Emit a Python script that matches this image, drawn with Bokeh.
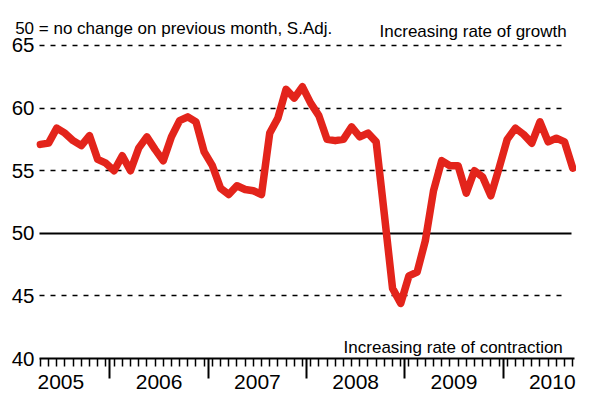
import pandas as pd
from bokeh.plotting import figure
from bokeh.models import ColumnDataSource, LinearAxis, FixedTicker, Grid, Label, Range1d
from bokeh.embed import file_html
from bokeh.resources import INLINE

# ---- data ----
months = [p.strftime("%Y-%m") for p in pd.period_range("2005-04", "2010-09", freq="M")]
pmi = [57.1, 57.2, 58.4, 58.0, 57.4, 57.0, 57.8, 55.9, 55.6, 55.0, 56.2, 55.0,
       56.8, 57.7, 56.7, 55.8, 57.7, 59.0, 59.3, 58.9, 56.5, 55.4, 53.6, 53.1,
       53.8, 53.5, 53.4, 53.1, 58.0, 59.2, 61.5, 60.8, 61.7, 60.4, 59.4, 57.5,
       57.4, 57.5, 58.5, 57.7, 58.0, 57.3, 51.5, 45.6, 44.4, 46.6, 46.9, 49.4,
       53.4, 55.8, 55.4, 55.4, 53.2, 55.0, 54.5, 53.0, 55.2, 57.5, 58.4, 57.9,
       57.2, 58.9, 57.3, 57.6, 57.3, 55.2]
y_ticks = [40, 45, 50, 55, 60, 65]
dashed_levels = [45, 55, 60, 65]
no_change_level = 50
year_labels = ["2005", "2006", "2007", "2008", "2009", "2010"]
note_text = "50 = no change on previous month, S.Adj."
growth_text = "Increasing rate of growth"
contraction_text = "Increasing rate of contraction"

# positions derived from the month list
x = list(range(len(months)))
year_bounds = [i - 0.5 for i, m in enumerate(months) if m.endswith("-01")]
year_mids = [i - 0.5 for i, m in enumerate(months) if m.endswith("-07")]

FONT = "Liberation Sans"
RED = "#E3241B"
X_START, X_END = -4.869, 65.46     # visible x range (month index)
Y_START, Y_END = 37.125, 68.594    # visible y range
AXIS_X0, AXIS_X1 = -0.107, 65.21   # extent of the plotting area
DASH_X1 = 63.9
SOLID_X1 = 64.86
BASE_Y = 40

p = figure(width=576, height=394,
           x_range=Range1d(X_START, X_END), y_range=Range1d(Y_START, Y_END),
           x_axis_type=None, y_axis_type=None,
           output_backend="svg", toolbar_location=None,
           min_border_left=0, min_border_right=0,
           min_border_top=0, min_border_bottom=0)
p.outline_line_color = None
p.background_fill_color = "white"
p.border_fill_color = "white"

# y axis (labels only), fixed at the start of the plotting area
yaxis = LinearAxis(fixed_location=AXIS_X0, ticker=FixedTicker(ticks=y_ticks),
                   axis_line_color=None, major_tick_line_color=None,
                   minor_tick_line_color=None, major_tick_out=0, major_tick_in=0,
                   minor_tick_out=0, minor_tick_in=0,
                   major_label_text_font=FONT, major_label_text_font_size="20.5px",
                   major_label_text_color="black", major_label_standoff=5)
p.add_layout(yaxis, "left")

# x axis: line, monthly minor ticks, year labels centred on each year
xaxis = LinearAxis(fixed_location=BASE_Y, bounds=(AXIS_X0, AXIS_X1),
                   ticker=FixedTicker(ticks=year_mids, minor_ticks=x),
                   major_tick_out=0, major_tick_in=0, major_tick_line_color=None,
                   minor_tick_out=8, minor_tick_in=0,
                   minor_tick_line_color="black", minor_tick_line_width=1.5,
                   axis_line_color="black", axis_line_width=2,
                   major_label_overrides={m: y for m, y in zip(year_mids, year_labels)},
                   major_label_text_font=FONT, major_label_text_font_size="21px",
                   major_label_text_color="black", major_label_standoff=8)
p.add_layout(xaxis, "below")

# long ticks at year boundaries
baxis = LinearAxis(fixed_location=BASE_Y, ticker=FixedTicker(ticks=year_bounds),
                   major_tick_out=20, major_tick_in=0, major_tick_line_width=2,
                   major_tick_line_color="black",
                   minor_tick_line_color=None, axis_line_color=None,
                   major_label_overrides={b: "" for b in year_bounds},
                   major_label_text_font_size="1px")
p.add_layout(baxis, "below")

# dashed grid lines and the solid 50 line
dash_grid = Grid(dimension=1, ticker=FixedTicker(ticks=dashed_levels),
                 cross_bounds=(AXIS_X0, DASH_X1),
                 grid_line_color="black", grid_line_width=1.5, grid_line_dash="5 6")
p.add_layout(dash_grid)
solid_grid = Grid(dimension=1, ticker=FixedTicker(ticks=[no_change_level]),
                  cross_bounds=(AXIS_X0, SOLID_X1),
                  grid_line_color="black", grid_line_width=2)
p.add_layout(solid_grid)

src = ColumnDataSource(data=dict(x=x, y=pmi))
p.line("x", "y", source=src, line_color=RED, line_width=7.5,
       line_join="round", line_cap="round")

p.add_layout(Label(x=-3.08, y=66.38, text=note_text, text_font=FONT,
                   text_font_size="17px", text_color="black",
                   text_baseline="alphabetic", text_align="left"))
p.add_layout(Label(x=64.26, y=66.12, text=growth_text, text_font=FONT,
                   text_font_size="17px", text_color="black",
                   text_baseline="alphabetic", text_align="right"))
p.add_layout(Label(x=63.79, y=40.88, text=contraction_text, text_font=FONT,
                   text_font_size="17px", text_color="black",
                   text_baseline="alphabetic", text_align="right"))

open("out.html", "w").write(file_html(p, INLINE))
